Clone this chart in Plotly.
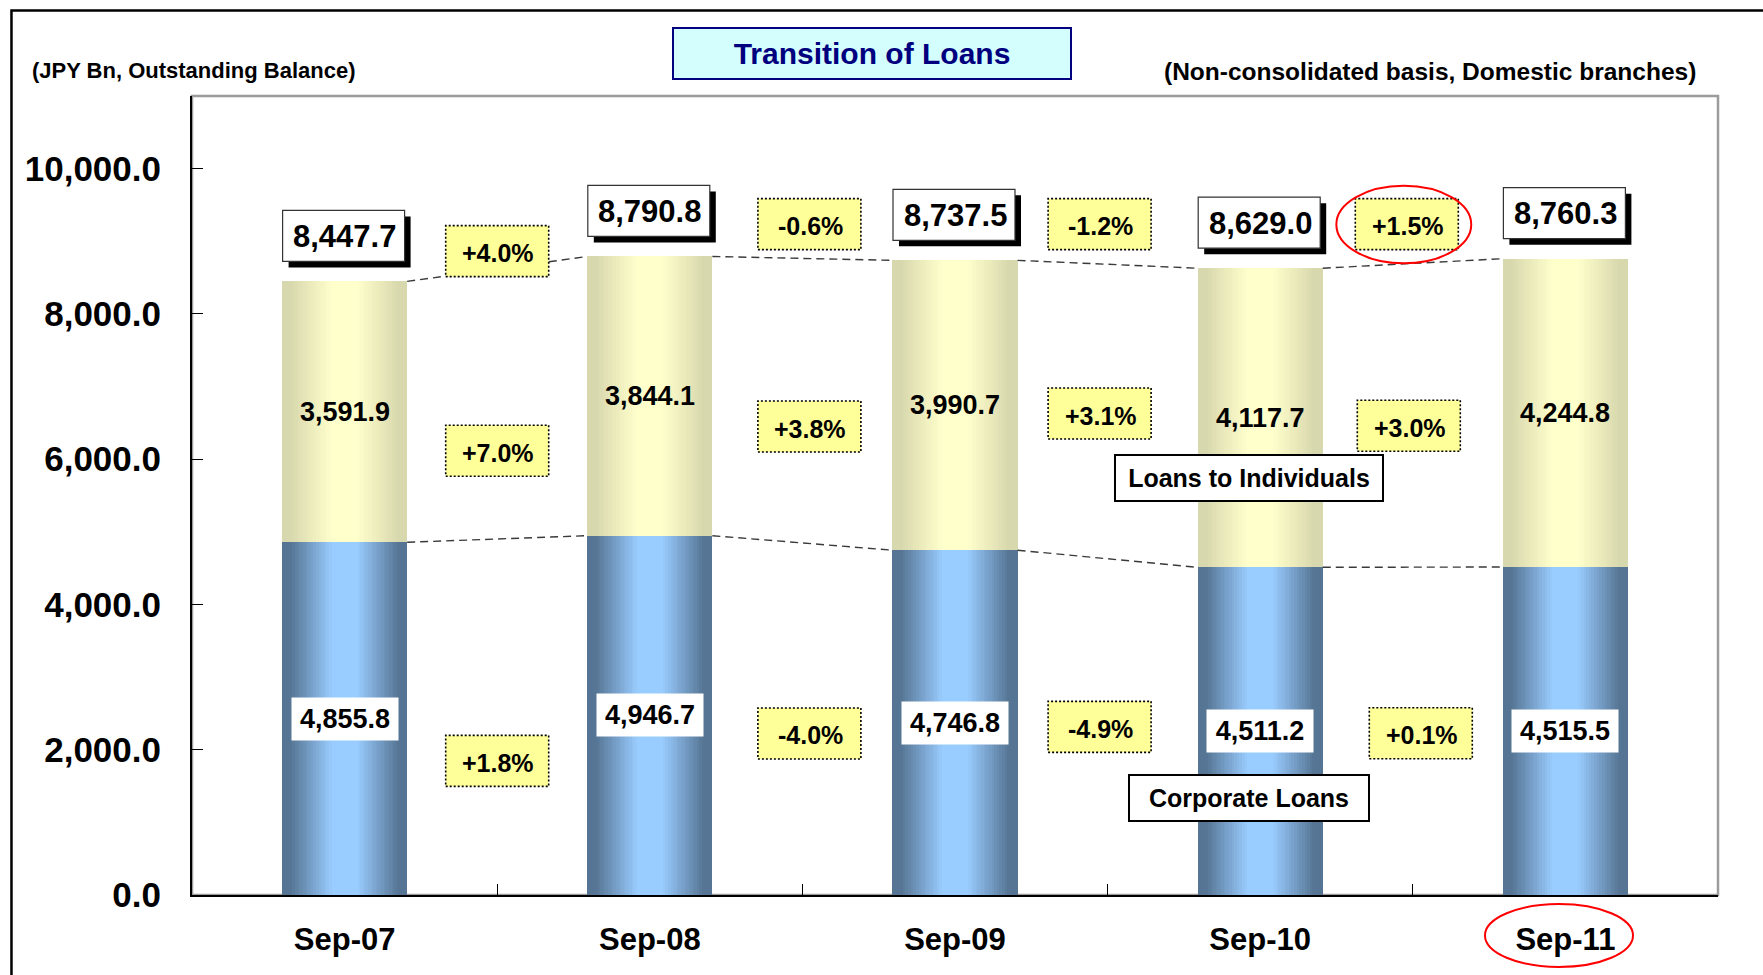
import plotly.graph_objects as go

# ---------------- data ----------------
categories = ["Sep-07", "Sep-08", "Sep-09", "Sep-10", "Sep-11"]
corporate = [4855.8, 4946.7, 4746.8, 4511.2, 4515.5]
individuals = [3591.9, 3844.1, 3990.7, 4117.7, 4244.8]
totals = [8447.7, 8790.8, 8737.5, 8629.0, 8760.3]
growth_total = ["+4.0%", "-0.6%", "-1.2%", "+1.5%"]
growth_indiv = ["+7.0%", "+3.8%", "+3.1%", "+3.0%"]
growth_corp = ["+1.8%", "-4.0%", "-4.9%", "+0.1%"]
y_ticks = [0, 2000, 4000, 6000, 8000, 10000]

# ---------------- layout positions (label placement, data units / px) ----------------
growth_total_y = [8864, 9236, 9236, 9236]
growth_indiv_y = [6116, 6450, 6628, 6460]
growth_corp_y = [1846, 2224, 2315, 2227]
growth_total_dx = [0, 7, -8, -6]
growth_indiv_dx = [0, 7, -8, -4]
growth_corp_dx = [0, 7, -8, 8]
series_label_y = [5745, 1338]

FONT = "Liberation Sans, Arial, sans-serif"
BAR_W = 0.41
N_STRIPS = 24

xs = list(range(len(categories)))


def lerp(c1, c2, t):
    return "rgb(%d,%d,%d)" % tuple(round(a + (b - a) * t) for a, b in zip(c1, c2))


fig = go.Figure()

layers = [
    (corporate, [0] * len(corporate), (86, 117, 148), (153, 204, 255)),
    (individuals, corporate, (216, 216, 174), (255, 255, 204)),
]
for vals, base, edge, center in layers:
    for k in range(N_STRIPS):
        frac = 1 - k / N_STRIPS
        t = min(1.0, max(0.0, (0.88 - frac) / 0.66))
        fig.add_trace(go.Bar(
            x=xs, y=vals, base=base, width=BAR_W * frac,
            marker=dict(color=lerp(edge, center, t), line=dict(width=0)),
            hoverinfo="skip", showlegend=False,
        ))

# dashed connectors between bar tops
for level in (totals, corporate):
    lx, ly = [], []
    for i in range(len(level) - 1):
        lx += [xs[i] + BAR_W / 2, xs[i + 1] - BAR_W / 2, None]
        ly += [level[i], level[i + 1], None]
    fig.add_trace(go.Scatter(x=lx, y=ly, mode="lines",
                             line=dict(color="#3a3a3a", width=1.4, dash="8px,5px"),
                             hoverinfo="skip", showlegend=False))

shapes = []
annotations = []

# plot-area border (gray) and outer frame
shapes.append(dict(type="rect", xref="paper", yref="paper", x0=0, x1=1, y0=0, y1=1,
                   line=dict(color="#9c9c9c", width=2.5), layer="below"))
shapes.append(dict(type="rect", xref="paper", yref="paper", x0=-0.1183, x1=1.06,
                   y0=-0.2, y1=1.107, line=dict(color="black", width=2.5), layer="below"))

# total labels with shadow boxes
for i, v in enumerate(totals):
    shapes.append(dict(type="rect", xref="x", yref="y", xsizemode="pixel", ysizemode="pixel",
                       xanchor=xs[i], yanchor=v, x0=-56, x1=66, y0=14, y1=65,
                       fillcolor="black", line=dict(width=0)))
    shapes.append(dict(type="rect", xref="x", yref="y", xsizemode="pixel", ysizemode="pixel",
                       xanchor=xs[i], yanchor=v, x0=-62, x1=60, y0=20, y1=71,
                       fillcolor="white", line=dict(color="#333333", width=1.2)))
    annotations.append(dict(x=xs[i], y=v, yshift=45, text=f"{v:,.1f}", showarrow=False,
                            xanchor="center", yanchor="middle",
                            font=dict(family=FONT, size=31, color="black", weight="bold")))

# segment labels
for i in xs:
    annotations.append(dict(x=xs[i], y=corporate[i] + individuals[i] / 2, text=f"{individuals[i]:,.1f}",
                            showarrow=False, xanchor="center", yanchor="middle",
                            font=dict(family=FONT, size=27, color="black", weight="bold")))
    annotations.append(dict(x=xs[i], y=corporate[i] / 2, text=f"{corporate[i]:,.1f}",
                            showarrow=False, bgcolor="white", borderpad=5, width=96, height=32,
                            xanchor="center", yanchor="middle",
                            font=dict(family=FONT, size=27, color="black", weight="bold")))

# growth rate boxes
for labels, ys, dxs in ((growth_total, growth_total_y, growth_total_dx),
                        (growth_indiv, growth_indiv_y, growth_indiv_dx),
                        (growth_corp, growth_corp_y, growth_corp_dx)):
    for i, (lab, yv, dx) in enumerate(zip(labels, ys, dxs)):
        shapes.append(dict(type="rect", xref="x", yref="y", xsizemode="pixel", ysizemode="pixel",
                           xanchor=xs[i] + 0.5, yanchor=yv, x0=dx - 51.5, x1=dx + 51.5,
                           y0=-25.5, y1=25.5, fillcolor="#ffff99",
                           line=dict(color="black", width=1.6, dash="2px,2px")))
        annotations.append(dict(x=xs[i] + 0.5, y=yv, xshift=dx + 1, yshift=-2, text=lab,
                                showarrow=False, xanchor="center", yanchor="middle",
                                font=dict(family=FONT, size=25, color="black", weight="bold")))

# series name boxes
for name, yv, w in (("Loans to Individuals", series_label_y[0], 262),
                    ("Corporate Loans", series_label_y[1], 234)):
    annotations.append(dict(x=xs[3], y=yv, xshift=-11, text=name, showarrow=False,
                            xanchor="center", yanchor="middle",
                            bgcolor="white", bordercolor="black", borderwidth=2, borderpad=2,
                            width=w, height=40,
                            font=dict(family=FONT, size=25, color="black", weight="bold")))

# red ellipses
shapes.append(dict(type="circle", xref="paper", yref="paper", x0=0.7499, x1=0.8383,
                   y0=0.7906, y1=0.8877, line=dict(color="#ff0000", width=2)))
shapes.append(dict(type="circle", xref="paper", yref="paper", x0=0.8473, x1=0.9443,
                   y0=-0.0901, y1=-0.0113, line=dict(color="#ff0000", width=2)))

# title and notes
annotations.append(dict(xref="paper", yref="paper", x=0.4454, y=1.0529, text="Transition of Loans",
                        xanchor="center", yanchor="middle",
                        showarrow=False, bgcolor="#d4fdfd", bordercolor="#000080", borderwidth=2,
                        borderpad=2, width=392, height=45,
                        font=dict(family=FONT, size=30, color="#00007f", weight="bold")))
annotations.append(dict(xref="paper", yref="paper", x=-0.1062, y=1.0325, xanchor="left",
                        yanchor="middle",
                        text="(JPY Bn, Outstanding Balance)", showarrow=False,
                        font=dict(family=FONT, size=22, color="black", weight="bold")))
annotations.append(dict(xref="paper", yref="paper", x=0.9869, y=1.0304, xanchor="right",
                        yanchor="middle",
                        text="(Non-consolidated basis, Domestic branches)", showarrow=False,
                        font=dict(family=FONT, size=24.5, color="black", weight="bold")))

fig.update_layout(
    width=1763, height=975,
    margin=dict(l=192, r=45, t=96, b=80),
    paper_bgcolor="white", plot_bgcolor="white",
    barmode="overlay", bargap=0,
    showlegend=False,
    shapes=shapes, annotations=annotations,
    xaxis=dict(range=[-0.5, 4.5], tickmode="array", tickvals=xs, ticktext=categories,
               ticks="", showline=True, linecolor="black", linewidth=2, showgrid=False,
               zeroline=False, ticklabelstandoff=16,
               minor=dict(tickmode="array", tickvals=[x + 0.5 for x in xs[:-1]], ticks="inside",
                          ticklen=11, tickwidth=1.2, tickcolor="black", showgrid=False),
               tickfont=dict(family=FONT, size=31, color="black", weight="bold"),
               fixedrange=True),
    yaxis=dict(range=[0, 11000], tickmode="array", tickvals=y_ticks, tickformat=",.1f",
               ticks="inside", ticklen=11, tickwidth=1.2, tickcolor="black",
               showline=True, linecolor="black", linewidth=2, showgrid=False, zeroline=False,
               ticklabelstandoff=22,
               tickfont=dict(family=FONT, size=35, color="black", weight="bold"),
               fixedrange=True),
)

fig.write_html("out.html", config={"displayModeBar": False},
               post_script="document.body.style.margin='0';document.body.style.overflow='hidden';")
